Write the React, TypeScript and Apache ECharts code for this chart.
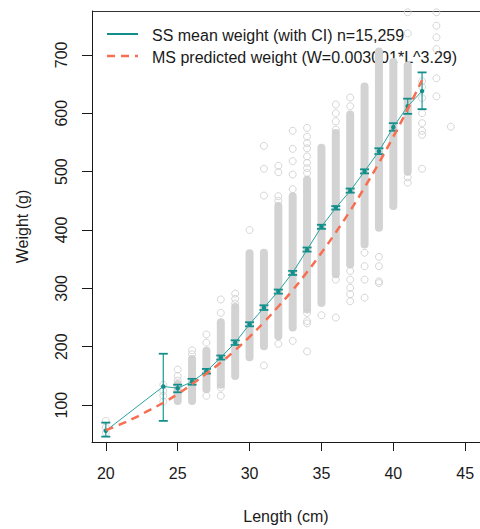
import React, { useEffect, useRef } from "react";
import * as echarts from "echarts";

// ---- tick labels ----
const xTicks = [20, 25, 30, 35, 40, 45];
const yTicks = [100, 200, 300, 400, 500, 600, 700];

// ---- SS mean weight with CI ----
const meanLengths = [20, 24, 25, 26, 27, 28, 29, 30, 31, 32, 33, 34, 35, 36, 37, 38, 39, 40, 41, 42];
const meanWeights = [56, 132, 129, 140, 158, 181.5, 207, 238.5, 267, 295, 327, 366, 405.5, 438, 467, 500.5, 535, 576, 612, 638];
const ciLow = [46, 73, 122, 135, 154, 178, 203, 235, 263, 291, 323, 363, 402, 435, 464, 497, 530, 570, 599, 607];
const ciHigh = [70, 188, 135, 145, 162, 185, 211, 242, 271, 298, 330, 370, 409, 441, 471, 504, 540, 583, 625, 670];

// ---- MS predicted weight ----
const predLengths = [20, 21, 22, 23, 24, 25, 26, 27, 28, 29, 30, 31, 32, 33, 34, 35, 36, 37, 38, 39, 40, 41, 42];
const predWeights = [57, 67, 78, 91, 104, 119, 136, 154, 173, 194, 217, 242, 269, 297, 328, 361, 396, 433, 473, 515, 560, 607, 657];

// ---- dense clouds of observations (low / high weight per length) ----
const denseLengths = [25, 26, 27, 28, 29, 30, 31, 32, 33, 34, 35, 36, 37, 38, 39, 40, 41];
const denseLow = [107, 107, 127, 135, 150, 182, 201, 218, 233, 264, 275, 324, 341, 375, 404, 441, 500];
const denseHigh = [136, 179, 193, 242, 268, 360, 361, 441, 458, 486, 541, 566, 598, 646, 706, 688, 682];

// ---- isolated observations [length, weight] ----
const isolatedPoints = [
  [20, 73], [20, 62], [20, 53],
  [24, 135], [24, 124], [24, 116], [24, 106],
  [25, 142], [25, 150], [25, 161],
  [26, 187], [26, 194],
  [27, 207], [27, 221], [27, 116],
  [28, 258], [28, 281], [28, 130], [28, 116],
  [29, 274], [29, 282], [29, 291],
  [30, 400],
  [31, 459], [31, 505], [31, 544], [31, 168],
  [32, 450], [32, 458], [32, 499], [32, 510], [32, 205],
  [33, 470], [33, 495], [33, 518], [33, 539], [33, 570], [33, 210],
  [34, 498], [34, 506], [34, 515], [34, 526], [34, 540], [34, 549], [34, 560], [34, 575], [34, 258], [34, 244], [34, 240], [34, 192],
  [35, 254],
  [36, 572], [36, 586], [36, 600], [36, 615], [36, 315], [36, 250],
  [37, 612], [37, 627], [37, 330], [37, 315], [37, 301], [37, 290], [37, 278],
  [38, 361], [38, 338], [38, 315], [38, 284],
  [39, 354], [39, 338], [39, 312], [39, 309],
  [41, 490], [41, 481], [41, 737], [41, 773],
  [42, 655], [42, 645], [42, 626], [42, 600], [42, 583], [42, 570], [42, 563], [42, 505],
  [43, 773], [43, 750], [43, 730], [43, 710], [43, 660], [43, 629],
  [44, 577],
];

const TEAL = "#138f8b";
const TEAL_LINE = "#2aa29d";
const RED = "#f86e50";
const GRAY = "#d3d3d3";
const INK = "#1a1a1a";
const FONT = "'Liberation Sans', Arial, Helvetica, sans-serif";

export default function App() {
  const ref = useRef<HTMLDivElement>(null);

  useEffect(() => {
    if (!ref.current) return;
    const chart = echarts.init(ref.current, null, { renderer: "svg" });

    const denseData = denseLengths.map((l, i) => [l, denseLow[i], denseHigh[i]]);
    const ciData = meanLengths.map((l, i) => [l, ciLow[i], ciHigh[i]]);
    const meanData = meanLengths.map((l, i) => [l, meanWeights[i]]);
    const predData = predLengths.map((l, i) => [l, predWeights[i]]);

    const option: any = {
      animation: false,
      textStyle: { fontFamily: FONT },
      grid: { left: 92, right: -6, top: 11, bottom: 86, containLabel: false },
      xAxis: {
        type: "value",
        min: 19.04,
        max: 46.03,
        name: "Length (cm)",
        nameLocation: "middle",
        nameGap: 66,
        nameTextStyle: { fontSize: 16, color: INK, fontFamily: FONT },
        axisLine: { show: true, onZero: false, lineStyle: { color: INK, width: 1 } },
        axisTick: { show: true, length: 9, customValues: xTicks, lineStyle: { color: INK } },
        axisLabel: { customValues: xTicks, fontSize: 16, color: INK, margin: 23, fontFamily: FONT },
        splitLine: { show: false },
      },
      yAxis: {
        type: "value",
        min: 36.8,
        max: 775.2,
        name: "Weight (g)",
        nameLocation: "middle",
        nameGap: 62,
        nameRotate: 90,
        nameTextStyle: { fontSize: 16, color: INK, fontFamily: FONT },
        axisLine: { show: true, onZero: false, lineStyle: { color: INK, width: 1 } },
        axisTick: { show: true, length: 10, customValues: yTicks, lineStyle: { color: INK } },
        axisLabel: { customValues: yTicks, rotate: 90, fontSize: 16, color: INK, margin: 23, fontFamily: FONT },
        splitLine: { show: false },
      },
      series: [
        {
          type: "custom",
          name: "dense",
          clip: true,
          data: denseData,
          encode: { x: 0, y: [1, 2] },
          renderItem: (_p: any, api: any) => {
            const l = api.value(0);
            const top = api.coord([l, api.value(2)]);
            const bot = api.coord([l, api.value(1)]);
            const r = 4;
            return {
              type: "rect",
              shape: { x: top[0] - r, y: top[1] - r, width: 2 * r, height: bot[1] - top[1] + 2 * r, r: r },
              style: { fill: GRAY },
            };
          },
          z: 1,
        },
        {
          type: "scatter",
          name: "obs",
          data: isolatedPoints,
          symbol: "circle",
          symbolSize: 7,
          clip: true,
          itemStyle: { color: "rgba(0,0,0,0)", borderColor: "#cccccc", borderWidth: 1 },
          z: 2,
        },
        {
          type: "custom",
          name: "ci",
          clip: true,
          data: ciData,
          encode: { x: 0, y: [1, 2] },
          renderItem: (_p: any, api: any) => {
            const l = api.value(0);
            const lo = api.coord([l, api.value(1)]);
            const hi = api.coord([l, api.value(2)]);
            const w = 4.5;
            const st = { stroke: TEAL_LINE, lineWidth: 1.3 };
            const cap = { stroke: TEAL, lineWidth: 1.8 };
            return {
              type: "group",
              children: [
                { type: "line", shape: { x1: hi[0], y1: hi[1], x2: lo[0], y2: lo[1] }, style: st },
                { type: "line", shape: { x1: hi[0] - w, y1: hi[1], x2: hi[0] + w, y2: hi[1] }, style: cap },
                { type: "line", shape: { x1: lo[0] - w, y1: lo[1], x2: lo[0] + w, y2: lo[1] }, style: cap },
              ],
            };
          },
          z: 3,
        },
        {
          type: "line",
          name: "SS mean weight (with CI) n=15,259",
          data: meanData,
          symbol: "circle",
          symbolSize: 4.5,
          showSymbol: true,
          lineStyle: { color: TEAL_LINE, width: 1 },
          itemStyle: { color: TEAL, borderWidth: 0 },
          z: 4,
        },
        {
          type: "line",
          name: "MS predicted weight (W=0.003001*L^3.29)",
          data: predData,
          smooth: true,
          showSymbol: false,
          symbol: "none",
          lineStyle: { color: RED, width: 2.5, type: [8, 6] },
          z: 5,
        },
      ],
      graphic: [
        { type: "line", shape: { x1: 92, y1: 11.5, x2: 480, y2: 11.5 }, style: { stroke: "#333", lineWidth: 1 }, z: 0 },
        { type: "line", shape: { x1: 107, y1: 34, x2: 138, y2: 34 }, style: { stroke: TEAL, lineWidth: 2 } },
        { type: "line", shape: { x1: 107, y1: 56, x2: 138, y2: 56 }, style: { stroke: RED, lineWidth: 2.5, lineDash: [8, 6] } },
        {
          type: "text",
          x: 152,
          y: 35,
          style: { text: "SS mean weight (with CI) n=15,259", fill: INK, font: `16px ${FONT}`, textVerticalAlign: "middle", verticalAlign: "middle" },
        },
        {
          type: "text",
          x: 152,
          y: 57,
          style: { text: "MS predicted weight (W=0.003001*L^3.29)", fill: INK, font: `16px ${FONT}`, textVerticalAlign: "middle", verticalAlign: "middle" },
        },
      ],
    };

    chart.setOption(option);
    return () => chart.dispose();
  }, []);

  return (
    <div
      ref={ref}
      style={{ position: "fixed", left: 0, top: 0, width: 480, height: 529, background: "#fff" }}
    />
  );
}
